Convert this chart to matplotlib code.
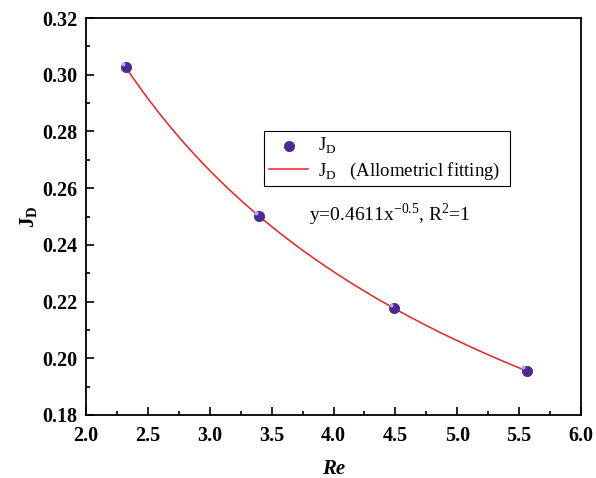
import numpy as np
import matplotlib
matplotlib.use('Agg')
import matplotlib.pyplot as plt
from matplotlib.ticker import MultipleLocator, FormatStrFormatter

# mass transfer factor vs Reynolds number
re = [2.32, 3.40, 4.49, 5.56]
jd = [0.3027, 0.2501, 0.2176, 0.1956]

# allometric fit y = a * x^b
fit_a = 0.4611
fit_b = -0.5

plt.rcParams['font.family'] = ['Liberation Serif', 'Noto Sans CJK SC']
plt.rcParams['mathtext.fontset'] = 'custom'
plt.rcParams['mathtext.rm'] = 'Liberation Serif'
plt.rcParams['mathtext.bf'] = 'Liberation Serif:bold'

fig = plt.figure(figsize=(5.96, 4.78), dpi=100)
ax = fig.add_axes([86/596, 1-415/478, (581-86)/596, (415-18)/478])

xx = np.linspace(min(re), max(re), 200)
ax.plot(xx, fit_a*xx**fit_b, color='#e8231f', lw=1.1, zorder=2,
        label=r'J$_\mathrm{D}$   (Allometricl fitting)  ')
ax.scatter(re, jd, s=55, color='#4a2b94', edgecolors='#3a1f7a', lw=0.5,
           zorder=3, label=r'J$_\mathrm{D}$')
# small highlight on the spheres
ax.scatter(np.array(re)-0.025, np.array(jd)+0.0012, s=8, color='#b7a6e6',
           lw=0, zorder=4)

ax.set_xlim(2.0, 6.0)
ax.set_ylim(0.18, 0.32)
ax.xaxis.set_major_locator(MultipleLocator(0.5))
ax.xaxis.set_minor_locator(MultipleLocator(0.25))
ax.yaxis.set_major_locator(MultipleLocator(0.02))
ax.yaxis.set_minor_locator(MultipleLocator(0.01))
ax.xaxis.set_major_formatter(FormatStrFormatter('%.1f'))
ax.yaxis.set_major_formatter(FormatStrFormatter('%.2f'))
ax.tick_params(which='both', direction='in', top=False, right=False, width=1.2)
ax.tick_params(which='major', length=6, labelsize=14.5)
ax.tick_params(which='minor', length=3)
ax.tick_params(axis='x', which='major', pad=8)
ax.tick_params(axis='y', which='major', pad=6)
for lab in ax.get_xticklabels() + ax.get_yticklabels():
    lab.set_fontweight('bold')
for sp in ax.spines.values():
    sp.set_linewidth(1.3)

ax.set_xlabel('Re', fontsize=15, fontweight='bold', style='italic', labelpad=9)
ax.set_ylabel(r'J$_\mathbf{D}$', fontsize=15, fontweight='bold', labelpad=2)

h, l = ax.get_legend_handles_labels()
leg = ax.legend([h[1], h[0]], [l[1], l[0]], loc='upper left',
                bbox_to_anchor=(0.36, 0.716), fontsize=13.5, fancybox=False,
                edgecolor='black', framealpha=1, handlelength=2.1,
                borderpad=0.25, labelspacing=0.25, handletextpad=0.5,
                borderaxespad=0)
leg.get_frame().set_linewidth(0.8)

ax.text(0.45, 0.505, r'y=0.4611x$^{-0.5}$, R$^2$=1', transform=ax.transAxes,
        fontsize=14, va='center')

fig.savefig('out.png', dpi=100)
